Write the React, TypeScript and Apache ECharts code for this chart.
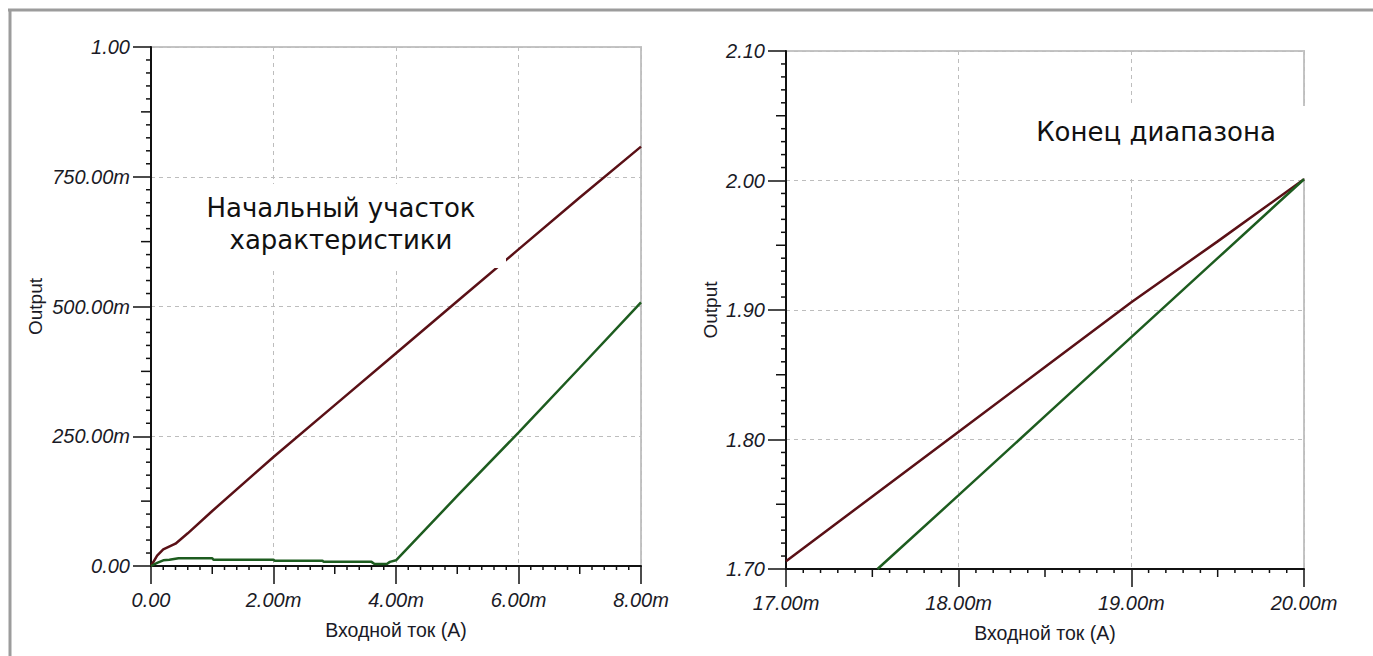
import React, { useEffect, useRef } from "react";
import * as echarts from "echarts";

// Left chart: start of characteristic (x in mA, y in V)
const leftRedX = [0, 0.1, 0.2, 0.4, 0.6, 1, 2, 3, 4, 5, 6, 7, 8];
const leftRedY = [0, 0.02, 0.032, 0.043, 0.063, 0.106, 0.21, 0.31, 0.41, 0.51, 0.61, 0.71, 0.808];
const leftGreenX = [0, 0.1, 0.2, 0.3, 0.45, 1.0, 1.02, 2.0, 2.02, 2.8, 2.82, 3.6, 3.65, 3.85, 3.9, 4.0, 5, 6, 7, 8];
const leftGreenY = [0, 0.006, 0.011, 0.012, 0.015, 0.015, 0.012, 0.012, 0.01, 0.01, 0.008, 0.008, 0.004, 0.004, 0.008, 0.011, 0.135, 0.257, 0.382, 0.508];

// Right chart: end of range
const rightRedX = [17, 17.5, 18, 18.5, 19, 19.5, 20];
const rightRedY = [1.706, 1.756, 1.806, 1.856, 1.906, 1.953, 2.001];
const rightGreenX = [17.53, 18, 18.5, 19, 19.5, 20];
const rightGreenY = [1.7, 1.757, 1.818, 1.879, 1.94, 2.001];

// Axis ranges [min, max, major interval]
const leftXRange = [0, 8, 2];
const leftYRange = [0, 1, 0.25];
const rightXRange = [17, 20, 1];
const rightYRange = [1.7, 2.1, 0.1];

const leftTitle = ["Начальный участок", "характеристики"];
const rightTitle = "Конец диапазона";
const xName = "Входной ток (А)";
const yName = "Output";

const RED = "#5a1016";
const GREEN = "#1d5c1f";
const LABEL = "#1a1a26";
const FONT = "'Liberation Sans', Arial, sans-serif";
const NOTE_FONT = "26px 'DejaVu Sans', Verdana, sans-serif";

const zip = (xs: number[], ys: number[]) => xs.map((x, i) => [x, ys[i]]);

const fmtX = (v: number) => (Math.abs(v) < 1e-9 ? "0.00" : v.toFixed(2) + "m");
const fmtYLeft = (v: number) =>
  Math.abs(v) < 1e-9 ? "0.00" : v < 0.999 ? (v * 1000).toFixed(2) + "m" : v.toFixed(2);
const fmtYRight = (v: number) => v.toFixed(2);

const tickLine = { color: "#111", width: 1.5 };
const axisLineStyle = { color: "#111", width: 2 };
const gridLine = { color: "#bdbdbd", type: [4, 4], width: 1 };

// minor (kind 0) and medium (kind 1) ticks: 10 subdivisions per major step
function subTicks(range: number[]) {
  const [min, max, major] = range;
  const step = major / 10;
  const n = Math.round((max - min) / step);
  const out: number[][] = [];
  for (let i = 0; i <= n; i++) {
    if (i % 10 === 0) continue;
    out.push([min + i * step, i % 5 === 0 ? 1 : 0]);
  }
  return out;
}

function mainX(gridIndex: number, range: number[]) {
  return {
    type: "value",
    gridIndex,
    min: range[0],
    max: range[1],
    interval: range[2],
    position: "bottom",
    name: xName,
    nameLocation: "middle",
    nameGap: 54,
    nameTextStyle: { fontFamily: FONT, fontSize: 19.5, color: LABEL },
    axisLine: { show: true, onZero: false, lineStyle: axisLineStyle },
    axisTick: { show: true, inside: false, length: 18, lineStyle: tickLine },
    axisLabel: {
      formatter: fmtX,
      margin: 24,
      fontFamily: FONT,
      fontSize: 20,
      fontStyle: "italic",
      color: LABEL,
      showMaxLabel: true,
      showMinLabel: true,
    },
    splitLine: { show: true, lineStyle: gridLine },
  };
}
function mainY(gridIndex: number, range: number[], fmt: (v: number) => string, nameGap: number) {
  return {
    type: "value",
    gridIndex,
    min: range[0],
    max: range[1],
    interval: range[2],
    position: "left",
    name: yName,
    nameLocation: "middle",
    nameRotate: 90,
    nameGap,
    nameTextStyle: { fontFamily: FONT, fontSize: 19, color: LABEL },
    axisLine: { show: true, onZero: false, lineStyle: axisLineStyle },
    axisTick: { show: true, inside: false, length: 18, lineStyle: tickLine },
    axisLabel: {
      formatter: fmt,
      margin: 21,
      fontFamily: FONT,
      fontSize: 20,
      fontStyle: "italic",
      color: LABEL,
    },
    splitLine: { show: true, lineStyle: gridLine },
  };
}

function line(name: string, data: number[][], color: string, axisIndex: number) {
  return {
    type: "line",
    name,
    data,
    xAxisIndex: axisIndex,
    yAxisIndex: axisIndex,
    showSymbol: false,
    symbol: "none",
    clip: true,
    lineStyle: { color, width: 2.5 },
    z: 5,
  };
}

function tickSeries(axisIndex: number, dir: "x" | "y", range: number[], other: number, lens: number[]) {
  return {
    type: "custom",
    xAxisIndex: axisIndex,
    yAxisIndex: axisIndex,
    clip: false,
    silent: true,
    z: 4,
    data: subTicks(range),
    renderItem: (_p: any, api: any) => {
      const v = api.value(0);
      const kind = api.value(1);
      const len = lens[kind];
      if (dir === "x") {
        const pt = api.coord([v, other]);
        return {
          type: "line",
          shape: { x1: pt[0], y1: pt[1], x2: pt[0], y2: pt[1] + len },
          style: { stroke: "#111", lineWidth: 1.5 },
        };
      }
      const pt = api.coord([other, v]);
      return {
        type: "line",
        shape: { x1: pt[0] - len, y1: pt[1], x2: pt[0], y2: pt[1] },
        style: { stroke: "#111", lineWidth: 1.5 },
      };
    },
  };
}

export default function App() {
  const ref = useRef<HTMLDivElement>(null);
  useEffect(() => {
    if (!ref.current) return;
    const chart = echarts.init(ref.current, undefined, { renderer: "svg" });
    chart.setOption({
      animation: false,
      backgroundColor: "#ffffff",
      grid: [
        { left: 151, top: 47, width: 490, height: 519, show: true, borderColor: "#c4c4c4", borderWidth: 2, backgroundColor: "transparent" },
        { left: 786, top: 51, width: 518, height: 518, show: true, borderColor: "#c4c4c4", borderWidth: 2, backgroundColor: "transparent" },
      ],
      xAxis: [mainX(0, leftXRange), mainX(1, rightXRange)],
      yAxis: [mainY(0, leftYRange, fmtYLeft, 106), mainY(1, rightYRange, fmtYRight, 66)],
      series: [
        line("red-left", zip(leftRedX, leftRedY), RED, 0),
        line("green-left", zip(leftGreenX, leftGreenY), GREEN, 0),
        line("red-right", zip(rightRedX, rightRedY), RED, 1),
        line("green-right", zip(rightGreenX, rightGreenY), GREEN, 1),
        tickSeries(0, "x", leftXRange, leftYRange[0], [4, 8]),
        tickSeries(0, "y", leftYRange, leftXRange[0], [5, 10]),
        tickSeries(1, "x", rightXRange, rightYRange[0], [4, 8]),
        tickSeries(1, "y", rightYRange, rightXRange[0], [5, 10]),
      ],
      graphic: [
        { type: "line", z: 200, shape: { x1: 8, y1: 10, x2: 1373, y2: 10 }, style: { stroke: "#9c9c9c", lineWidth: 3 } },
        { type: "line", z: 200, shape: { x1: 10, y1: 9, x2: 10, y2: 656 }, style: { stroke: "#9c9c9c", lineWidth: 3 } },
        { type: "rect", z: 150, shape: { x: 192, y: 184, width: 314, height: 84 }, style: { fill: "#ffffff" } },
        { type: "rect", z: 150, shape: { x: 1010, y: 106, width: 310, height: 72 }, style: { fill: "#ffffff" } },
        {
          type: "text",
          z: 160,
          x: 341,
          y: 208,
          style: { text: leftTitle[0], font: NOTE_FONT, fill: "#111", align: "center", verticalAlign: "middle" },
        },
        {
          type: "text",
          z: 160,
          x: 341,
          y: 240,
          style: { text: leftTitle[1], font: NOTE_FONT, fill: "#111", align: "center", verticalAlign: "middle" },
        },
        {
          type: "text",
          z: 160,
          x: 1156,
          y: 132,
          style: { text: rightTitle, font: NOTE_FONT, fill: "#111", align: "center", verticalAlign: "middle" },
        },
      ],
    });
    return () => chart.dispose();
  }, []);
  return (
    <div
      ref={ref}
      style={{ position: "fixed", left: 0, top: 0, width: 1373, height: 656, background: "#fff" }}
    />
  );
}
